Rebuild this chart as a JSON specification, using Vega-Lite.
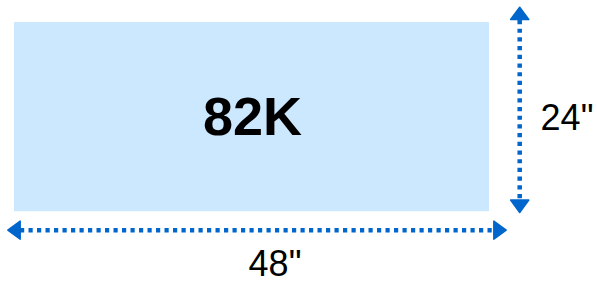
{
  "$schema": "https://vega.github.io/schema/vega-lite/v6.json",
  "width": 597,
  "height": 283,
  "padding": 0,
  "autosize": {"type": "fit", "contains": "padding"},
  "background": "white",
  "config": {"view": {"stroke": null}},
  "datasets": {
    "box": [{"x": 14, "x2": 489, "y": 22, "y2": 212}],
    "center": [{"x": 252.5, "y": 135, "text": "82K"}],
    "vline": [{"x": 519.7, "y": 20, "y2": 201}],
    "hline": [{"x": 20, "x2": 494, "y": 231}],
    "heads": [
      {"x": 519.7, "y": 13.4, "dir": "up"},
      {"x": 519.7, "y": 207, "dir": "down"},
      {"x": 14, "y": 231, "dir": "left"},
      {"x": 500, "y": 231, "dir": "right"}
    ],
    "dims": [
      {"x": 275, "y": 276.7, "text": "48\""},
      {"x": 567, "y": 130.5, "text": "24\""}
    ]
  },
  "layer": [
    {
      "data": {"name": "box"},
      "mark": {"type": "rect", "color": "#cce8fe"},
      "encoding": {
        "x": {"field": "x", "type": "quantitative", "scale": {"domain": [0, 597], "nice": false, "zero": false}, "axis": null},
        "x2": {"field": "x2"},
        "y": {"field": "y", "type": "quantitative", "scale": {"domain": [0, 283], "nice": false, "zero": false, "reverse": true}, "axis": null},
        "y2": {"field": "y2"}
      }
    },
    {
      "data": {"name": "center"},
      "mark": {"type": "text", "font": "Liberation Sans", "fontWeight": "bold", "fontSize": 54, "color": "#000000", "align": "center", "baseline": "alphabetic"},
      "encoding": {
        "x": {"field": "x", "type": "quantitative"},
        "y": {"field": "y", "type": "quantitative"},
        "text": {"field": "text"}
      }
    },
    {
      "data": {"name": "vline"},
      "mark": {"type": "rule", "color": "#0066cc", "strokeWidth": 4.5, "strokeDash": [4.2, 4.5]},
      "encoding": {
        "x": {"field": "x", "type": "quantitative"},
        "y": {"field": "y", "type": "quantitative"},
        "y2": {"field": "y2"}
      }
    },
    {
      "data": {"name": "hline"},
      "mark": {"type": "rule", "color": "#0066cc", "strokeWidth": 4.5, "strokeDash": [4.2, 4.3]},
      "encoding": {
        "x": {"field": "x", "type": "quantitative"},
        "x2": {"field": "x2"},
        "y": {"field": "y", "type": "quantitative"}
      }
    },
    {
      "data": {"name": "heads"},
      "mark": {"type": "point", "filled": true, "color": "#0066cc", "opacity": 1, "size": 330, "strokeWidth": 1.5, "strokeJoin": "round", "stroke": "#0066cc"},
      "encoding": {
        "x": {"field": "x", "type": "quantitative"},
        "y": {"field": "y", "type": "quantitative"},
        "shape": {
          "field": "dir",
          "type": "nominal",
          "scale": {
            "domain": ["up", "down", "left", "right"],
            "range": [
              "M0,-0.68L1,0.68L-1,0.68Z",
              "M0,0.68L1,-0.68L-1,-0.68Z",
              "M-0.68,0L0.68,-1L0.68,1Z",
              "M0.68,0L-0.68,-1L-0.68,1Z"
            ]
          },
          "legend": null
        }
      }
    },
    {
      "data": {"name": "dims"},
      "mark": {"type": "text", "font": "Liberation Sans", "fontSize": 36, "color": "#000000", "align": "center", "baseline": "alphabetic"},
      "encoding": {
        "x": {"field": "x", "type": "quantitative"},
        "y": {"field": "y", "type": "quantitative"},
        "text": {"field": "text"}
      }
    }
  ]
}
